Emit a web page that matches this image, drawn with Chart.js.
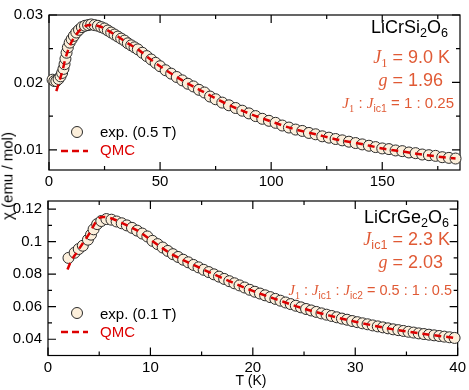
<!DOCTYPE html>
<html>
<head>
<meta charset="utf-8">
<script src="https://cdn.jsdelivr.net/npm/chart.js@4.4.1/dist/chart.umd.min.js"></script>
<style>
body { margin: 0; background: #fff; width: 469px; height: 390px; position: relative; overflow: hidden; font-family: 'Liberation Sans', Arial, sans-serif; }
canvas { position: absolute; left: 0; }
.t { position: absolute; white-space: nowrap; line-height: 1; color: #000; }
.o { color: #e05a35; }
.red { color: #dd0000; }
.m { font-family: 'Liberation Serif', 'DejaVu Serif', serif; font-style: italic; }
.sr { font-family: 'Liberation Serif', 'DejaVu Serif', serif; }
.s { font-size: 70%; position: relative; top: 0.35em; }
.dot { position: absolute; width: 12px; height: 12px; box-sizing: border-box; border: 1px solid #2a2a2a; border-radius: 50%; background: #fcefdb; }
svg { position: absolute; }
</style>
</head>
<body>
<canvas id="si" width="469" height="190" style="top:0"></canvas>
<canvas id="ge" width="469" height="204" style="top:186px"></canvas>

<!-- top panel text -->
<div class="t" style="right:21px;top:18px;font-size:18px">LiCrSi<span class="s">2</span>O<span class="s">6</span></div>
<div class="t o" style="right:19px;top:48px;font-size:18px"><span class="m">J</span><span class="s sr">1</span> = 9.0 K</div>
<div class="t o" style="right:26px;top:71px;font-size:18px"><span class="m">g</span> = 1.96</div>
<div class="t o" style="right:15px;top:95px;font-size:15px"><span class="m">J</span><span class="s sr">1</span> : <span class="m">J</span><span class="s">ic1</span> = 1 : 0.25</div>
<div class="dot" style="left:71px;top:126px"></div>
<div class="t" style="left:100px;top:124px;font-size:15px">exp. (0.5 T)</div>
<svg style="left:61px;top:148px" width="27" height="6"><line x1="0" y1="3" x2="27" y2="3" stroke="#dd0000" stroke-width="2.5" stroke-dasharray="7 4"/></svg>
<div class="t red" style="left:100px;top:142px;font-size:15px">QMC</div>

<!-- bottom panel text -->
<div class="t" style="right:20px;top:208px;font-size:18px">LiCrGe<span class="s">2</span>O<span class="s">6</span></div>
<div class="t o" style="right:19px;top:230px;font-size:18px"><span class="m">J</span><span class="s">ic1</span> = 2.3 K</div>
<div class="t o" style="right:26px;top:253px;font-size:18px"><span class="m">g</span> = 2.03</div>
<div class="t o" style="right:17px;top:283px;font-size:14.5px"><span class="m">J</span><span class="s sr">1</span> : <span class="m">J</span><span class="s">ic1</span> : <span class="m">J</span><span class="s">ic2</span> = 0.5 : 1 : 0.5</div>
<div class="dot" style="left:71px;top:307px"></div>
<div class="t" style="left:100px;top:306px;font-size:15px">exp. (0.1 T)</div>
<svg style="left:61px;top:329px" width="27" height="6"><line x1="0" y1="3" x2="27" y2="3" stroke="#dd0000" stroke-width="2.5" stroke-dasharray="7 4"/></svg>
<div class="t red" style="left:100px;top:324px;font-size:15px">QMC</div>

<!-- axis titles -->
<div class="t" style="left:7px;top:176px;font-size:15px;transform:translate(-50%,-50%) rotate(-90deg)">χ (emu / mol)</div>
<div class="t" style="left:251px;top:373px;font-size:14px;transform:translateX(-50%)">T (K)</div>

<script>
// LiCrSi2O6, 0.5 T
const siT = [1.6, 2.4, 3.3, 4.3, 5.2, 5.9, 6.5, 7.0, 7.4, 7.9, 8.5, 9.3, 10.2, 11.2, 12.3, 13.5, 14.8, 16.2, 17.6, 19.0,
  20.5, 22.0, 23.5, 25.0, 26.5, 28.0, 29.5, 31.0, 32.5, 34.0, 35.5, 37.0, 38.5, 40.0, 42.0, 44.0, 46.0, 48.0, 50.0, 52.5,
  55.0, 57.5, 60.0, 62.5, 65.0, 67.5, 70.0, 72.5, 75.0, 78, 81, 84, 87, 90, 93, 96, 99, 102, 105, 108,
  111, 114, 117, 120, 123, 126, 129, 132, 135, 138, 141, 144, 147, 150, 153, 156, 159, 162, 165, 168,
  171, 174, 177, 180, 183];
const siChi = [0.0204, 0.0202, 0.0202, 0.0205, 0.0209, 0.0214, 0.0220, 0.0227, 0.0235, 0.0244, 0.0252, 0.0259, 0.0264, 0.0269, 0.0274, 0.0278, 0.0282, 0.0284, 0.0285, 0.0286,
  0.0285, 0.0284, 0.0282, 0.0280, 0.0277, 0.0274, 0.0271, 0.0268, 0.0265, 0.0262, 0.0258, 0.0255, 0.0252, 0.0249, 0.0244, 0.0239, 0.0234, 0.0229, 0.0224, 0.0218,
  0.0213, 0.0208, 0.0203, 0.0198, 0.0194, 0.0189, 0.0185, 0.0179, 0.0175, 0.0170, 0.0166, 0.0162, 0.0158, 0.0154, 0.0150, 0.0146, 0.0143, 0.0140, 0.0136, 0.0133,
  0.0130, 0.0128, 0.0125, 0.0123, 0.0120, 0.0118, 0.0116, 0.0114, 0.0112, 0.0110, 0.0108, 0.0106, 0.0104, 0.0102, 0.0101, 0.0099, 0.0098, 0.0096, 0.0095, 0.0093,
  0.0092, 0.0091, 0.0089, 0.0088, 0.0087];
const siQmcT = [3.3, 4.7, 6.2, 7.2, 8.7, 10.3, 12.5, 15.5, 19, 23, 27, 31, 35, 40, 45, 50, 60, 70, 80, 90,
  100, 110, 120, 130, 140, 150, 160, 170, 180, 183];
const siQmcChi = [0.0187, 0.0202, 0.0219, 0.0233, 0.0249, 0.0261, 0.0272, 0.0282, 0.0285, 0.0283, 0.0276, 0.0268, 0.0259, 0.0249, 0.0236, 0.0224, 0.0203, 0.0185, 0.0168, 0.0154,
  0.0142, 0.0131, 0.0123, 0.0115, 0.0109, 0.0102, 0.0097, 0.0092, 0.0088, 0.0087];

// LiCrGe2O6, 0.1 T
const geT = [2.0, 2.6, 3.0, 3.4, 3.9, 4.2, 4.45, 4.8, 5.2, 5.7, 6.2, 6.7, 7.2, 7.7, 8.2, 8.7, 9.2, 9.7,
  10.2, 10.7, 11.2, 11.7, 12.2, 12.7, 13.2, 13.7, 14.2, 14.7, 15.2, 15.7, 16.2, 16.7, 17.2, 17.7, 18.2, 18.7, 19.2, 19.7,
  20.2, 20.7, 21.2, 21.7, 22.2, 22.7, 23.2, 23.7, 24.2, 24.7, 25.2, 25.7, 26.2, 26.7, 27.2, 27.7, 28.2, 28.7, 29.2, 29.7,
  30.2, 30.7, 31.2, 31.7, 32.2, 32.7, 33.2, 33.7, 34.2, 34.7, 35.2, 35.7, 36.2, 36.7, 37.2, 37.7, 38.2, 38.7, 39.2, 39.7];
const geChi = [0.0900, 0.0932, 0.0955, 0.0975, 0.1012, 0.1043, 0.1076, 0.1108, 0.1127, 0.1139, 0.1135, 0.1124, 0.1113, 0.1100, 0.1085, 0.1068, 0.1050, 0.1032,
  0.1005, 0.0985, 0.0964, 0.0943, 0.0923, 0.0906, 0.0889, 0.0873, 0.0857, 0.0842, 0.0827, 0.0813, 0.0799, 0.0785, 0.0771, 0.0757, 0.0744, 0.0731, 0.0718, 0.0704,
  0.0692, 0.0681, 0.0670, 0.0659, 0.0648, 0.0637, 0.0626, 0.0616, 0.0606, 0.0596, 0.0586, 0.0577, 0.0568, 0.0559, 0.0551, 0.0543, 0.0535, 0.0527, 0.0520, 0.0512,
  0.0505, 0.0498, 0.0492, 0.0485, 0.0479, 0.0473, 0.0467, 0.0461, 0.0456, 0.0451, 0.0446, 0.0441, 0.0436, 0.0432, 0.0428, 0.0424, 0.0420, 0.0416, 0.0412, 0.0408];
const geQmcT = [1.9, 2.3, 2.8, 3.4, 4.1, 4.6, 5.0, 5.4, 6.0, 7.0, 8, 9, 10, 12, 14, 16, 18, 20, 22.5, 25,
  27.5, 30, 32.5, 35, 37.5, 40];
const geQmcChi = [0.0829, 0.0886, 0.0933, 0.0990, 0.1057, 0.1114, 0.1146, 0.1152, 0.1147, 0.1122, 0.1092, 0.1058, 0.1012, 0.0926, 0.0863, 0.0805, 0.0749, 0.0697, 0.0641, 0.0588,
  0.0545, 0.0508, 0.0475, 0.0448, 0.0426, 0.0406];

// axis ticks
const siXMajor = [0, 50, 100, 150];
const siXMinor = [25, 75, 125, 175];
const siYMajor = [0.01, 0.02, 0.03];
const siYMinor = [0.015, 0.025];
const geXMajor = [0, 10, 20, 30, 40];
const geXMinor = [5, 15, 25, 35];
const geYMajor = [0.04, 0.06, 0.08, 0.1, 0.12];
const geYMinor = [0.05, 0.07, 0.09, 0.11];

const FONT = { family: "'Liberation Sans', Arial, sans-serif", size: 15 };

// xmgrace style frame with inward ticks on all four sides
function frameTicks(xMajor, xMinor, yMajor, yMinor) {
    return {
        id: 'frameTicks',
        beforeDatasetsDraw(chart) {
            const { ctx, chartArea: a, scales: { x, y } } = chart;
            ctx.save();
            ctx.strokeStyle = '#000';
            ctx.lineWidth = 1.2;
            ctx.strokeRect(a.left, a.top, a.right - a.left, a.bottom - a.top);
            ctx.beginPath();
            xMajor.concat(xMinor).forEach(v => {
                const len = xMajor.includes(v) ? 8 : 4;
                const px = x.getPixelForValue(v);
                ctx.moveTo(px, a.bottom); ctx.lineTo(px, a.bottom - len);
                ctx.moveTo(px, a.top); ctx.lineTo(px, a.top + len);
            });
            yMajor.concat(yMinor).forEach(v => {
                const len = yMajor.includes(v) ? 8 : 4;
                const py = y.getPixelForValue(v);
                ctx.moveTo(a.left, py); ctx.lineTo(a.left + len, py);
                ctx.moveTo(a.right, py); ctx.lineTo(a.right - len, py);
            });
            ctx.stroke();
            ctx.restore();
        }
    };
}

function panel(id, expT, expChi, qmcT, qmcChi, xr, yr, xMajor, xMinor, yMajor, yMinor, pad, xh, yw) {
    return new Chart(document.getElementById(id), {
        type: 'scatter',
        data: {
            datasets: [
                {
                    label: 'QMC',
                    data: qmcT.map((t, i) => ({ x: t, y: qmcChi[i] })),
                    showLine: true,
                    borderColor: '#dd0000',
                    borderWidth: 2.5,
                    borderDash: [7, 5],
                    pointRadius: 0,
                    cubicInterpolationMode: 'monotone',
                    order: 0,
                    clip: false
                },
                {
                    label: 'exp.',
                    data: expT.map((t, i) => ({ x: t, y: expChi[i] })),
                    backgroundColor: '#fcefdb',
                    borderColor: '#2a2a2a',
                    borderWidth: 1,
                    pointRadius: 5.5,
                    order: 1,
                    clip: false
                }
            ]
        },
        options: {
            responsive: false,
            animation: false,
            layout: { padding: pad },
            plugins: { legend: { display: false }, tooltip: { enabled: false } },
            scales: {
                x: {
                    type: 'linear', min: xr[0], max: xr[1],
                    grid: { display: false, drawTicks: false },
                    border: { display: false },
                    afterBuildTicks: s => { s.ticks = xMajor.map(v => ({ value: v })); },
                    afterFit: s => { s.height = xh; },
                    ticks: { padding: 3, color: '#000', font: FONT, maxRotation: 0, autoSkip: false,
                        callback: v => String(v) }
                },
                y: {
                    type: 'linear', min: yr[0], max: yr[1],
                    grid: { display: false, drawTicks: false },
                    border: { display: false },
                    afterBuildTicks: s => { s.ticks = yMajor.map(v => ({ value: v })); },
                    afterFit: s => { s.width = yw; },
                    ticks: { padding: 6, color: '#000', font: FONT, autoSkip: false,
                        callback: v => String(+v.toFixed(3)) }
                }
            }
        },
        plugins: [frameTicks(xMajor, xMinor, yMajor, yMinor)]
    });
}

panel('si', siT, siChi, siQmcT, siQmcChi, [0, 185], [0.007, 0.03],
    siXMajor, siXMinor, siYMajor, siYMinor, { left: 0, top: 5, right: 9, bottom: 0 }, 20, 49);
panel('ge', geT, geChi, geQmcT, geQmcChi, [0, 40], [0.03, 0.125],
    geXMajor, geXMinor, geYMajor, geYMinor, { left: 0, top: 4, right: 9, bottom: 0 }, 34.5, 48);
</script>
</body>
</html>
